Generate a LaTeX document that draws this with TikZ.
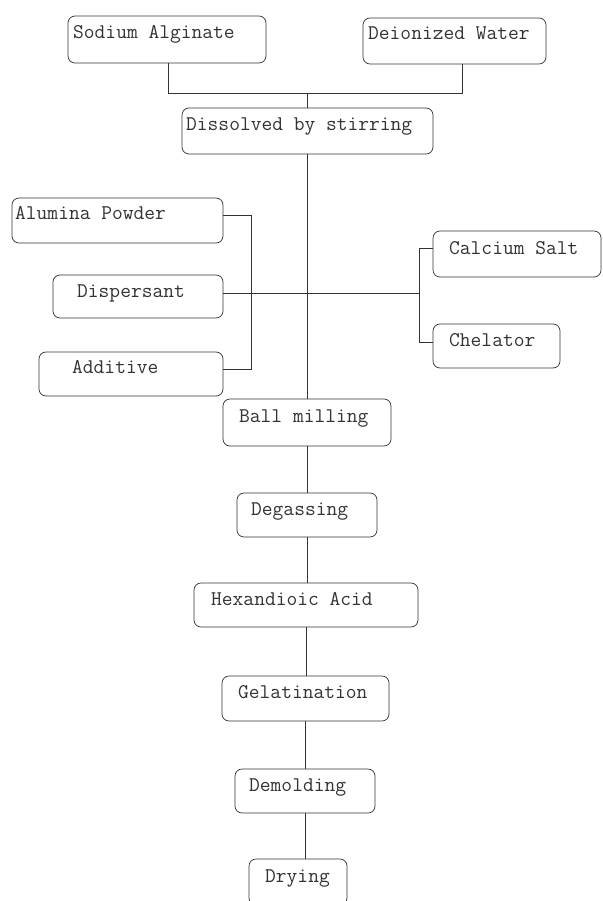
\documentclass[tikz,border=0pt]{standalone}
\usepackage{fontspec}
\begin{document}
\begin{tikzpicture}[x=1pt,y=-1pt,
  box/.style n args={2}{draw=black!80, line width=0.7pt, rounded corners=7pt,
    minimum width=#1pt, minimum height=#2pt, inner sep=0pt},
  lbl/.style={anchor=base west, inner sep=0pt, text=black!80,
    font=\fontsize{20.9}{22}\selectfont\ttfamily},
  conn/.style={draw=black!80, line width=0.7pt}]
\useasboundingbox (0,0) rectangle (602,901);
\fill[white] (0,0) rectangle (602,901);
% boxes
\node[box={198}{47}]   (sod)  at (167,39.5) {};
\node[box={183}{46}]   (dei)  at (454.5,41) {};
\node[box={251}{46}]   (dis)  at (307.5,131) {};
\node[box={211}{45}]   (alu)  at (117.5,220.5) {};
\node[box={170}{43}]   (disp) at (138,296.5) {};
\node[box={184}{44}]   (add)  at (131,374) {};
\node[box={168}{46}]   (cal)  at (517,254) {};
\node[box={127}{44}]   (che)  at (496.5,346) {};
\node[box={168}{47}]   (ball) at (307,422.5) {};
\node[box={140}{44}]   (deg)  at (307,515) {};
\node[box={224}{44}]   (hex)  at (306,605) {};
\node[box={167}{45}]   (gel)  at (305.5,698.5) {};
\node[box={140}{44}]   (dem)  at (305,791) {};
\node[box={98}{46}]    (dry)  at (298,882) {};
% texts
\node[lbl] (tsod)  at (73,38.5)  {Sodium Alginate};
\node[lbl] (tdei)  at (368,40)   {Deionized Water};
\node[lbl] (tdis)  at (186,130.5) {Dissolved by stirring};
\node[lbl] (talu)  at (15,219)   {Alumina Powder};
\node[lbl] (tdisp) at (77,297)   {Dispersant};
\node[lbl] (tadd)  at (72,373)   {Additive};
\node[lbl] (tcal)  at (449,254)  {Calcium Salt};
\node[lbl] (tche)  at (449,346)  {Chelator};
\node[lbl] (tball) at (239,422.5) {Ball milling};
\node[lbl] (tdeg)  at (251,515)  {Degassing};
\node[lbl] (thex)  at (211,605)  {Hexandioic Acid};
\node[lbl] (tgel)  at (238,698)  {Gelatination};
\node[lbl] (tdem)  at (249,791)  {Demolding};
\node[lbl] (tdry)  at (265,882)  {Drying};
% junctions
\coordinate (j1) at (307.5,93);
\coordinate (lt) at (251,215);
\coordinate (lb) at (251,369);
\coordinate (rm) at (419,293);
\coordinate (rt) at (419,248);
\coordinate (rb) at (419,342);
% connectors
\draw[conn] ([xshift=1pt]sod.south) |- (j1);
\draw[conn] ([xshift=7.5pt]dei.south) |- (j1);
\draw[conn] (j1) -- (dis.north);
\draw[conn] (dis.south) -- (dis.south |- ball.north);
\draw[conn] (alu.east |- lt) -- (lt) -- (lb) -- (add.east |- lb);
\draw[conn] (disp.east |- rm) -- (rm);
\draw[conn] (cal.west |- rt) -- (rt) -- (rb) -- (che.west |- rb);
\draw[conn] (ball.south) -- (ball.south |- deg.north);
\draw[conn] (deg.south) -- (deg.south |- hex.north);
\draw[conn] (hex.south) -- (hex.south |- gel.north);
\draw[conn] (gel.south) -- (gel.south |- dem.north);
\draw[conn] (dem.south) -- (dem.south |- dry.north);
\end{tikzpicture}
\end{document}
